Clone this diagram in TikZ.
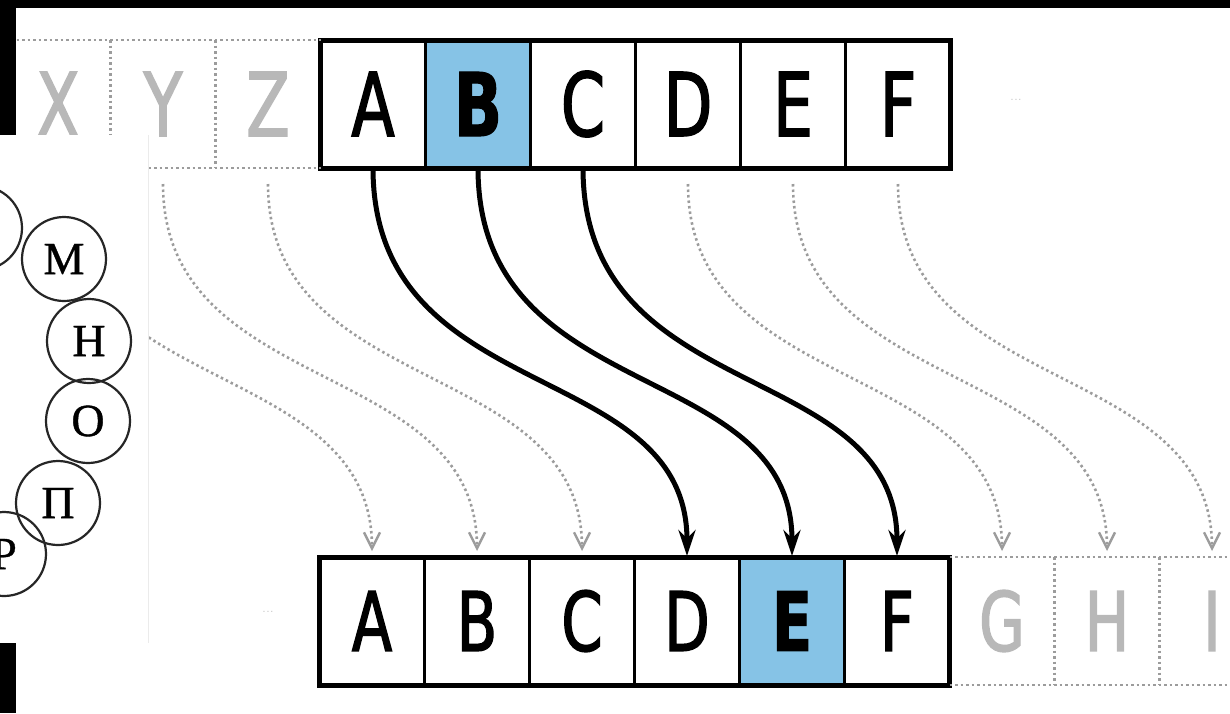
\documentclass[tikz,border=0pt]{standalone}
\usepackage{fontspec}
\usetikzlibrary{arrows.meta, positioning}
\newfontfamily\cellfont[FakeStretch=0.72, FakeBold=1.6,
    BoldFeatures={FakeStretch=0.72, FakeBold=1.2}]{DejaVu Sans}
\newfontfamily\cyrfont[FakeBold=0.8]{Liberation Serif}
\definecolor{cellblue}{HTML}{86C3E6}
\definecolor{fadegray}{HTML}{B8B8B8}
\definecolor{dotgray}{HTML}{9C9C9C}

\begin{document}
\begin{tikzpicture}[
    x=1pt, y=-1pt,
    cell/.style={draw=black, line width=3.5pt, fill=white, minimum width=105pt,
                 minimum height=128pt, inner sep=0pt, outer sep=0pt},
    hicell/.style={cell, fill=cellblue},
    toprow/.style={font=\cellfont\fontsize{88}{88}\selectfont},
    botrow/.style={font=\cellfont\fontsize{82}{82}\selectfont},
    ghost/.style={text=fadegray, minimum width=105pt, minimum height=128pt,
                  inner sep=0pt, outer sep=0pt},
    shiftarrow/.style={line width=5pt, shorten >=1pt, -{Stealth[length=26pt,width=17pt]}},
    ghostarrow/.style={draw=dotgray, line width=2.6pt, dash pattern=on 2.5pt off 3pt,
                       shorten <=16pt, shorten >=6pt, -{Straight Barb[length=16pt,width=16pt,line width=2.4pt]}},
    gridline/.style={draw=dotgray, line width=2.4pt, dash pattern=on 2.5pt off 3pt},
    ring/.style={circle, draw=black!85, line width=2.2pt, minimum size=84pt, inner sep=0pt,
                 font=\cyrfont\fontsize{46}{46}\selectfont}
]
\useasboundingbox (0,0) rectangle (1230,713);
\clip (0,0) rectangle (1230,713);
\fill[white] (0,0) rectangle (1230,713);

% plain alphabet
\node[ghost, toprow] (gX) at (58,104) {X};
\node[ghost, toprow, right=0pt of gX] (gY) {Y};
\node[ghost, toprow, right=0pt of gY] (gZ) {Z};
\node[cell, toprow, right=0pt of gZ] (tA) {A};
\node[hicell, toprow, right=0pt of tA] (tB) {\bfseries B};
\node[cell, toprow, right=0pt of tB] (tC) {C};
\node[cell, toprow, right=0pt of tC] (tD) {D};
\node[cell, toprow, right=0pt of tD] (tE) {E};
\node[cell, toprow, right=0pt of tE] (tF) {F};
\draw[line width=5pt] (tA.north west) rectangle (tF.south east);
\node[text=fadegray!70, font=\sffamily\Large] (tdots) at (1016,100) {...};

\draw[gridline] (gX.north west) -- (gZ.north east);
\draw[gridline] (gX.south west) -- (gZ.south east);
\draw[gridline] (gX.north east) -- (gX.south east);
\draw[gridline] (gY.north east) -- (gY.south east);

% shifted alphabet
\node[cell, botrow] (bA) at (372,621) {A};
\node[cell, botrow, right=0pt of bA] (bB) {B};
\node[cell, botrow, right=0pt of bB] (bC) {C};
\node[cell, botrow, right=0pt of bC] (bD) {D};
\node[hicell, botrow, right=0pt of bD] (bE) {\bfseries E};
\node[cell, botrow, right=0pt of bE] (bF) {F};
\node[ghost, botrow, right=0pt of bF] (gG) {G};
\node[ghost, botrow, right=0pt of gG] (gH) {H};
\node[ghost, botrow, right=0pt of gH] (gI) {I};
\draw[line width=5pt] (bA.north west) rectangle (bF.south east);
\node[text=fadegray!70, font=\sffamily\Large] (bdots) at (268,612) {...};

\draw[gridline] (gG.north west) -- (gI.north east);
\draw[gridline] (gG.south west) -- (gI.south east);
\draw[gridline] (gG.north east) -- (gG.south east);
\draw[gridline] (gH.north east) -- (gH.south east);

\draw[ghostarrow] (gX.south) .. controls +(0,230) and +(0,-200) .. (bA.north);
\draw[ghostarrow] (gY.south) .. controls +(0,230) and +(0,-200) .. (bB.north);
\draw[ghostarrow] (gZ.south) .. controls +(0,230) and +(0,-200) .. (bC.north);
\draw[ghostarrow] (tD.south) .. controls +(0,230) and +(0,-200) .. (gG.north);
\draw[ghostarrow] (tE.south) .. controls +(0,230) and +(0,-200) .. (gH.north);
\draw[ghostarrow] (tF.south) .. controls +(0,230) and +(0,-200) .. (gI.north);

\draw[shiftarrow] (tA.south) .. controls +(0,240) and +(0,-200) .. (bD.north);
\draw[shiftarrow] (tB.south) .. controls +(0,240) and +(0,-200) .. (bE.north);
\draw[shiftarrow] (tC.south) .. controls +(0,240) and +(0,-200) .. (bF.north);

% inset with the letter wheel
\fill[white] (0,135) rectangle (148,643);
\draw[black!8, line width=1pt] (148,135) -- (148,643);
\node[ring] (rL) at (-20,228) {};
\node[ring] (rM) at (64,259) {М};
\node[ring] (rN) at (89,341) {Н};
\node[ring] (rO) at (88,421) {О};
\node[ring] (rP) at (58,503) {П};
\node[ring] (rR) at (4,554) {Р};

\fill[black] (0,0) rectangle (1230,8);
\fill[black] (0,0) rectangle (16,135);
\fill[black] (0,643) rectangle (16,713);
\end{tikzpicture}
\end{document}
